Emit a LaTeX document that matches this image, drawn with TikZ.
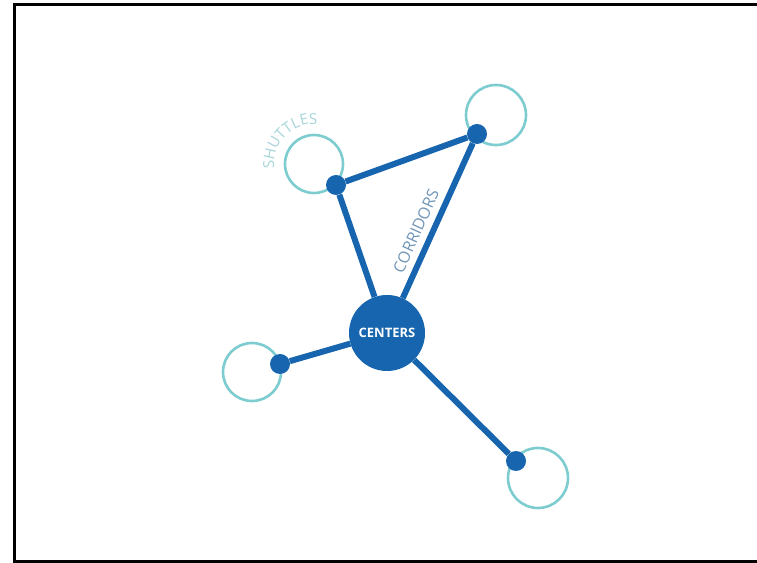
\documentclass[tikz,border=0pt]{standalone}
\usepackage{fontspec}
\setmainfont{Open Sans}
\usetikzlibrary{decorations.text}
\definecolor{hubblue}{HTML}{1665AE}
\definecolor{ringteal}{HTML}{7DCCD0}
\definecolor{shuttlecol}{HTML}{A6D5DA}
\definecolor{corrcol}{HTML}{7196B8}
\tikzset{
  ring/.style={circle, draw=ringteal, line width=2.6pt, minimum size=#1, inner sep=0pt},
  dot/.style={circle, fill=hubblue, minimum size=20pt, inner sep=0pt},
  hub/.style={circle, fill=hubblue, minimum size=76pt, inner sep=0pt, text=white, font=\bfseries\fontsize{13}{15}\selectfont},
  link/.style={draw=hubblue, line width=6pt},
}
\begin{document}
\begin{tikzpicture}[x=1pt,y=1pt]
\useasboundingbox (0,0) rectangle (757,562);
\fill[white] (0,0) rectangle (757,562);
\draw[line width=3pt] (770,1) -- (14,1) -- (14,557) -- (770,557);
% rings
\node[ring=58pt] (ra) at (314,398) {};
\node[ring=60pt] (rb) at (496,447) {};
\node[ring=58pt] (rc) at (252,190) {};
\node[ring=60pt] (rd) at (538,84) {};
% hub and dots
\node[hub] (c) at (387,229) {CENTERS};
\node[dot] (a) at (336,377) {};
\node[dot] (b) at (477,428) {};
\node[dot] (d) at (280,198) {};
\node[dot] (e) at (516,101) {};
% links
\draw[link] (c) -- (a);
\draw[link] (c) -- (b);
\draw[link] (a) -- (b);
\draw[link] (c) -- (d);
\draw[link] (c) -- (e);
% labels
\path[decorate, decoration={text along path, text align=center,
  text={|\fontsize{15}{17}\selectfont\color{shuttlecol}|SHUTTLES}}]
  (ra) ++(200:40pt) arc (200:72:40pt);
\node[text=corrcol, font=\fontsize{16}{18}\selectfont, rotate=65.7, inner sep=0pt] (lab) at (416,331) {CORRIDORS};
\end{tikzpicture}
\end{document}
